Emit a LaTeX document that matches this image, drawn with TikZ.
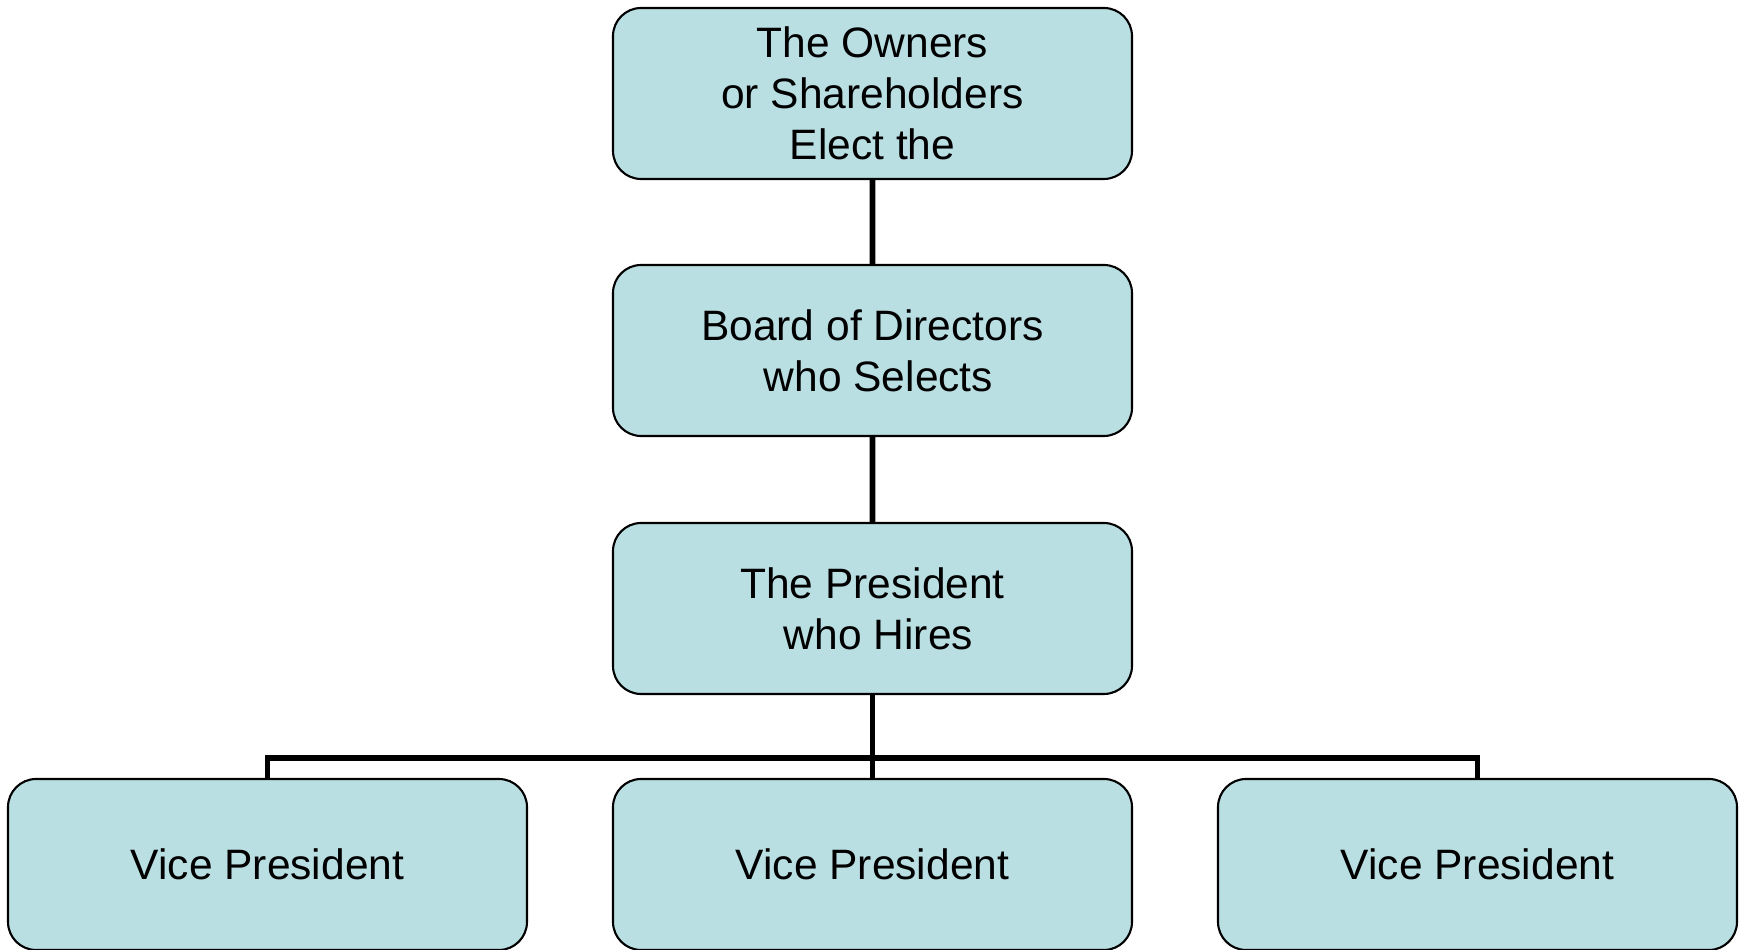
\documentclass[tikz,border=0pt]{standalone}
\usepackage{fontspec}
\setmainfont{Liberation Sans}
\definecolor{boxblue}{RGB}{185,223,227}

\begin{document}
\begin{tikzpicture}[grow=down, edge from parent/.style={draw, line width=1.6pt}]
\tikzstyle{level 1}=[level distance=2.57cm]
\tikzstyle{level 2}=[level distance=2.58cm]
\tikzstyle{level 3}=[level distance=2.56cm, sibling distance=6.05cm,
  edge from parent path={(\tikzparentnode.south) -- ++(0,-0.63) -| (\tikzchildnode.north)}]
\tikzstyle{post}=[rectangle, rounded corners=8pt, draw, line width=0.6pt, fill=boxblue,
  minimum width=5.19cm, minimum height=1.71cm, align=center, inner sep=2pt,
  font=\fontsize{12.1}{14.5}\selectfont]
\useasboundingbox (0,0) rectangle (17.45,9.5);
 \node[post] (owners) at (8.725,8.565) {The Owners\\or Shareholders\\Elect the}
  child{
      node[post] (board) {Board of Directors\\\hspace*{.28em}who Selects}
    child{
        node[post] (president) {The President\\\hspace*{.28em}who Hires}
      child{node[post] (vpleft) {Vice President}}
      child{node[post] (vpmid) {Vice President}}
      child{node[post] (vpright) {Vice President}}
    }
  };
\end{tikzpicture}
\end{document}
